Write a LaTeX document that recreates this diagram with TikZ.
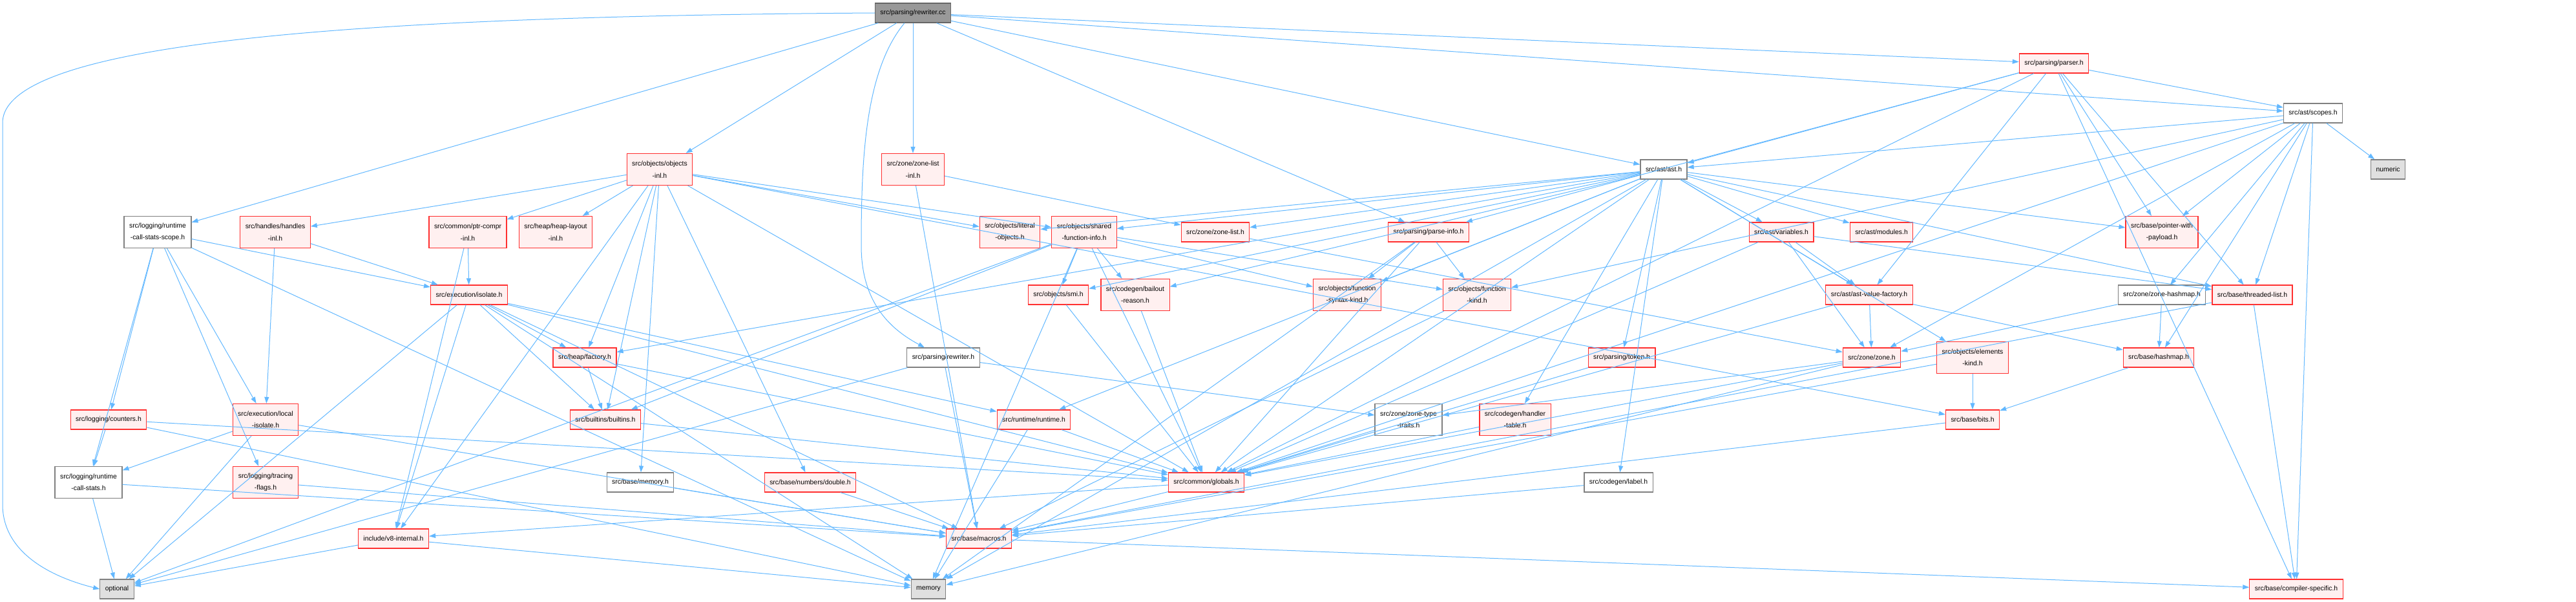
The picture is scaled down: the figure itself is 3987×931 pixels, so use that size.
\documentclass[tikz,border=0pt]{standalone}
\usepackage{fontspec}
\setmainfont{Liberation Sans}
\usetikzlibrary{arrows.meta}
\definecolor{edgeblue}{HTML}{63B8FF}
\definecolor{nodered}{HTML}{FF3030}
\definecolor{nodefill}{HTML}{FFF0F0}
\definecolor{boxgray}{HTML}{808080}
\definecolor{sysgray}{HTML}{E0E0E0}
\definecolor{rootgray}{HTML}{999999}
\definecolor{rootborder}{HTML}{666666}

\begin{document}
\begin{tikzpicture}[x=1pt,y=-1pt,
every node/.style={rectangle,draw,line width=1.2pt,inner xsep=8pt,inner ysep=2pt,
  minimum height=30pt,align=center,font=\fontsize{10.4}{18.5}\selectfont},
redbox/.style={draw=nodered,fill=nodefill},
whitebox/.style={draw=boxgray,fill=white},
sysbox/.style={draw=boxgray,fill=sysgray},
rootbox/.style={draw=rootborder,fill=rootgray},
tall/.style={minimum height=49pt},
dep/.style={draw=edgeblue,line width=1pt,-{Triangle[length=10pt,width=7pt]}}]
\useasboundingbox (0,0) rectangle (3987,931);

% rank 0 - 2
\node[rootbox] (rcc) at (1413,20) {src/parsing/rewriter.cc};
\node[redbox] (parser) at (3179,98) {src/parsing/parser.h};
\node[whitebox] (scopes) at (3580,175) {src/ast/scopes.h};
\node[whitebox] (ast) at (2575,262) {src/ast/ast.h};
\node[sysbox] (numeric) at (3696,262) {numeric};
\node[redbox,tall] (objinl) at (1021,262) {src/objects/objects\\-inl.h};
\node[redbox,tall] (zlinl) at (1413,262) {src/zone/zone-list\\-inl.h};

% rank 3
\node[whitebox,tall] (rcsscope) at (244,359) {src/logging/runtime\\-call-stats-scope.h};
\node[redbox,tall] (handinl) at (426,359) {src/handles/handles\\-inl.h};
\node[redbox,tall] (ptrinl) at (724,359) {src/common/ptr-compr\\-inl.h};
\node[redbox,tall] (hlayout) at (860,359) {src/heap/heap-layout\\-inl.h};
\node[redbox,tall] (litobj) at (1563,359) {src/objects/literal\\-objects.h};
\node[redbox,tall] (sfi) at (1678,359) {src/objects/shared\\-function-info.h};
\node[redbox] (zlist) at (1881,359) {src/zone/zone-list.h};
\node[redbox] (pinfo) at (2211,359) {src/parsing/parse-info.h};
\node[redbox] (vars) at (2757,359) {src/ast/variables.h};
\node[redbox] (modules) at (2912,359) {src/ast/modules.h};
\node[redbox,tall] (pwp) at (3346,359) {src/base/pointer-with\\-payload.h};

% rank 4
\node[redbox] (isolate) at (726,456) {src/execution/isolate.h};
\node[redbox] (smi) at (1638,456) {src/objects/smi.h};
\node[redbox,tall] (bailout) at (1757,456) {src/codegen/bailout\\-reason.h};
\node[redbox,tall] (fsk) at (2085,456) {src/objects/function\\-syntax-kind.h};
\node[redbox,tall] (fkind) at (2286,456) {src/objects/function\\-kind.h};
\node[redbox] (avf) at (2893,456) {src/ast/ast-value-factory.h};
\node[whitebox] (zhmap) at (3346,456) {src/zone/zone-hashmap.h};
\node[redbox] (tlist) at (3486,456) {src/base/threaded-list.h};

% rank 5
\node[redbox] (factory) at (905,553) {src/heap/factory.h};
\node[whitebox] (rwh) at (1460,553) {src/parsing/rewriter.h};
\node[redbox] (token) at (2510,553) {src/parsing/token.h};
\node[redbox] (zone) at (2897,553) {src/zone/zone.h};
\node[redbox,tall] (ekind) at (3053,553) {src/objects/elements\\-kind.h};
\node[redbox] (hashmap) at (3341,553) {src/base/hashmap.h};

% rank 6
\node[redbox] (counters) at (168,649) {src/logging/counters.h};
\node[redbox,tall] (lisolate) at (411,649) {src/execution/local\\-isolate.h};
\node[redbox] (builtins) at (937,649) {src/builtins/builtins.h};
\node[redbox] (runtime) at (1600,649) {src/runtime/runtime.h};
\node[whitebox,tall] (ztraits) at (2180,649) {src/zone/zone-type\\-traits.h};
\node[redbox,tall] (htable) at (2345,649) {src/codegen/handler\\-table.h};
\node[redbox] (bits) at (3053,649) {src/base/bits.h};

% rank 7
\node[whitebox,tall] (rcs) at (137,746) {src/logging/runtime\\-call-stats.h};
\node[redbox,tall] (tflags) at (411,746) {src/logging/tracing\\-flags.h};
\node[whitebox] (bmemory) at (991,746) {src/base/memory.h};
\node[redbox] (double) at (1254,746) {src/base/numbers/double.h};
\node[redbox] (globals) at (1867,746) {src/common/globals.h};
\node[whitebox] (label) at (2505,746) {src/codegen/label.h};

% rank 8 - 9
\node[redbox] (v8int) at (609,833) {include/v8-internal.h};
\node[redbox] (macros) at (1515,833) {src/base/macros.h};
\node[sysbox] (optional) at (181,911) {optional};
\node[sysbox] (memory) at (1437,911) {memory};
\node[redbox] (cspec) at (3554,911) {src/base/compiler-specific.h};

% includes
\draw[dep] (rcc.west) .. controls (600,25) and (4,60) .. (4,190) -- (4,780) .. controls (4,860) and (90,895) .. (optional.west);
\draw[dep] (rcc) .. controls (1338,110) and (1333,250) .. (1333,380) .. controls (1333,470) and (1380,510) .. (rwh);
\path (rcc) edge[dep] (ast) edge[dep] (scopes) edge[dep] (rcsscope)
  edge[dep] (objinl) edge[dep] (pinfo) edge[dep] (parser) edge[dep] (zlinl);
\path (parser) edge[dep] (avf) edge[dep] (ast) edge[dep] (scopes) edge[dep] (cspec)
  edge[dep] (pwp) edge[dep] (tlist) edge[dep] (globals) edge[dep] (pinfo);
\path (scopes) edge[dep] (numeric) edge[dep] (ast) edge[dep] (cspec) edge[dep] (hashmap)
  edge[dep] (pwp) edge[dep] (tlist) edge[dep] (globals) edge[dep] (fkind)
  edge[dep] (zhmap) edge[dep] (zone);
\path (ast) edge[dep] (memory) edge[dep] (avf) edge[dep] (modules) edge[dep] (vars)
  edge[dep] (pwp) edge[dep] (tlist) edge[dep] (bailout) edge[dep] (htable)
  edge[dep] (label) edge[dep] (globals) edge[dep] (factory) edge[dep] (ekind)
  edge[dep] (fsk) edge[dep] (litobj) edge[dep] (smi) edge[dep] (token)
  edge[dep] (runtime) edge[dep] (zlist) edge[dep] (sfi);
\path (objinl) edge[dep] (v8int) edge[dep] (handinl) edge[dep] (ptrinl) edge[dep] (hlayout)
  edge[dep] (factory) edge[dep] (builtins) edge[dep] (bmemory) edge[dep] (double)
  edge[dep] (globals) edge[dep] (bits) edge[dep] (litobj) edge[dep] (sfi);
\path (zlinl) edge[dep] (zlist) edge[dep] (macros);
\path (rcsscope) edge[dep] (rcs) edge[dep] (counters) edge[dep] (memory)
  edge[dep] (tflags) edge[dep] (lisolate) edge[dep] (isolate);
\path (handinl) edge[dep] (lisolate) edge[dep] (isolate);
\path (ptrinl) edge[dep] (isolate) edge[dep] (v8int);
\path (isolate) edge[dep] (optional) edge[dep] (v8int) edge[dep] (memory) edge[dep] (macros)
  edge[dep] (globals) edge[dep] (builtins) edge[dep] (factory) edge[dep] (runtime);
\path (lisolate) edge[dep] (rcs) edge[dep] (optional) edge[dep] (macros);
\path (counters) edge[dep] (rcs) edge[dep] (memory) edge[dep] (globals);
\path (rcs) edge[dep] (optional) edge[dep] (macros);
\path (tflags) edge[dep] (macros);
\path (v8int) edge[dep] (optional) edge[dep] (memory);
\path (factory) edge[dep] (builtins) edge[dep] (globals);
\path (builtins) edge[dep] (globals);
\path (bmemory) edge[dep] (macros);
\path (double) edge[dep] (macros);
\path (globals) edge[dep] (v8int) edge[dep] (macros);
\path (macros) edge[dep] (cspec);
\path (sfi) edge[dep] (optional) edge[dep] (memory) edge[dep] (smi) edge[dep] (bailout)
  edge[dep] (builtins) edge[dep] (fsk) edge[dep] (fkind) edge[dep] (globals);
\path (smi) edge[dep] (globals);
\path (bailout) edge[dep] (globals);
\path (pinfo) edge[dep] (fsk) edge[dep] (fkind) edge[dep] (globals) edge[dep] (memory);
\path (vars) edge[dep] (avf) edge[dep] (zone) edge[dep] (globals) edge[dep] (tlist);
\path (avf) edge[dep] (zone) edge[dep] (globals) edge[dep] (hashmap);
\path (zlist) edge[dep] (zone);
\path (zone) edge[dep] (ztraits) edge[dep] (globals) edge[dep] (memory);
\path (ekind) edge[dep] (bits) edge[dep] (macros);
\path (bits) edge[dep] (macros);
\path (hashmap) edge[dep] (bits);
\path (zhmap) edge[dep] (hashmap) edge[dep] (zone);
\path (tlist) edge[dep] (cspec) edge[dep] (macros);
\path (token) edge[dep] (globals);
\path (htable) edge[dep] (globals);
\path (ztraits) edge[dep] (globals);
\path (label) edge[dep] (macros);
\path (runtime) edge[dep] (globals) edge[dep] (memory);
\path (rwh) edge[dep] (optional) edge[dep] (macros) edge[dep] (ztraits);
\path (fkind) edge[dep] (macros);
\end{tikzpicture}
\end{document}
